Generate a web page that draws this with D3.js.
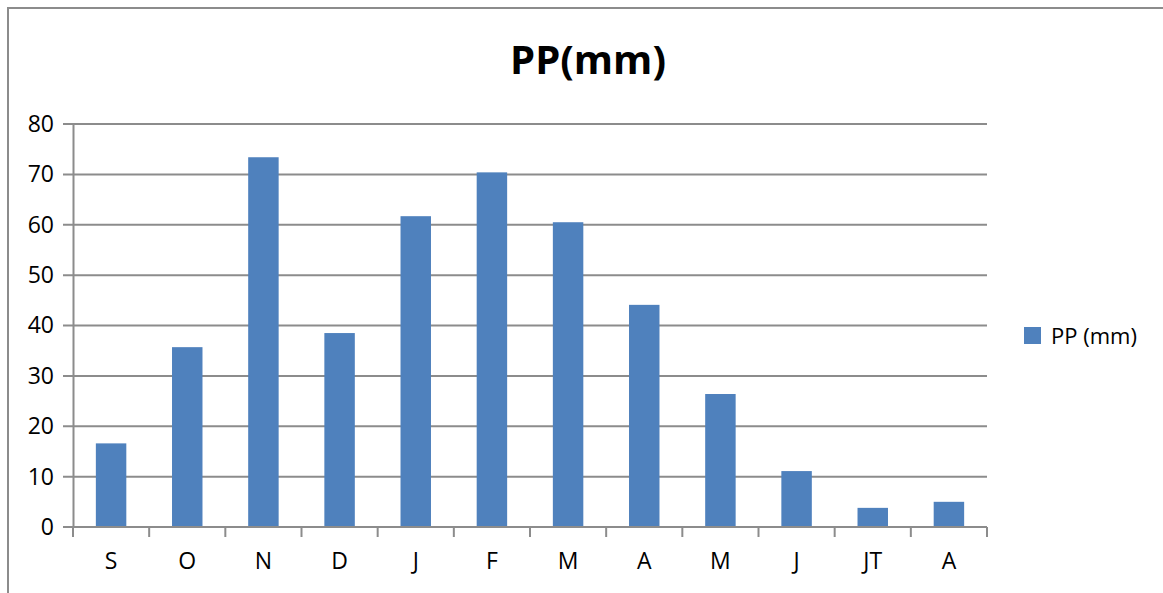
<!DOCTYPE html>
<html>
<head>
<meta charset="utf-8">
<script src="https://cdn.jsdelivr.net/npm/d3@7"></script>
<style>
  body { margin: 0; background: #fff; }
  svg { font-family: "Open Sans", sans-serif; }
  .grid line { stroke: #8c8c8c; stroke-width: 2; }
</style>
</head>
<body>
<svg width="1163" height="593"></svg>
<script>
var months = ["S", "O", "N", "D", "J", "F", "M", "A", "M", "J", "JT", "A"];
var ppValues = [16.6, 35.7, 73.4, 38.5, 61.7, 70.4, 60.5, 44.1, 26.4, 11.1, 3.8, 5.0];
var yTicks = [0, 10, 20, 30, 40, 50, 60, 70, 80];
var seriesName = "PP (mm)";
var title = "PP(mm)";

var data = months.map(function (m, i) { return { key: i, label: m, value: ppValues[i] }; });

var svg = d3.select("svg"),
    width = +svg.attr("width"),
    height = +svg.attr("height");

var margin = { left: 73, right: 176, top: 124, bottom: 66 };
var plotW = width - margin.left - margin.right,
    plotH = height - margin.top - margin.bottom;

// outer chart border
svg.append("rect")
    .attr("x", 8).attr("y", 8)
    .attr("width", 1163).attr("height", 620)
    .attr("fill", "none")
    .attr("stroke", "#8c8c8c")
    .attr("stroke-width", 2);

var x = d3.scaleBand()
    .domain(data.map(function (d) { return d.key; }))
    .range([0, plotW])
    .paddingInner(0.6)
    .paddingOuter(0.3);

var y = d3.scaleLinear()
    .domain([0, 80])
    .range([plotH, 0]);

var g = svg.append("g")
    .attr("transform", "translate(" + margin.left + "," + margin.top + ")");

// gridlines
g.append("g")
    .attr("class", "grid")
    .selectAll("line")
    .data(yTicks)
    .enter().append("line")
    .attr("x1", -10)
    .attr("x2", plotW)
    .attr("y1", function (d) { return y(d); })
    .attr("y2", function (d) { return y(d); });

// y axis
var yAxis = g.append("g")
    .call(d3.axisLeft(y).tickValues(yTicks).tickSize(0).tickPadding(19));
yAxis.select(".domain").attr("stroke", "#8c8c8c").attr("stroke-width", 2);
yAxis.selectAll("text")
    .attr("font-size", 23)
    .attr("font-family", "Open Sans, sans-serif")
    .attr("fill", "#000");

// bars
g.selectAll(".bar")
    .data(data)
    .enter().append("rect")
    .attr("class", "bar")
    .attr("x", function (d) { return x(d.key); })
    .attr("width", x.bandwidth())
    .attr("y", function (d) { return y(d.value); })
    .attr("height", function (d) { return plotH - y(d.value); })
    .attr("fill", "#4f81bd");

// x axis with category boundary ticks
var step = plotW / months.length;
var xAxis = g.append("g")
    .attr("transform", "translate(0," + plotH + ")");
xAxis.append("line")
    .attr("x1", 0).attr("x2", plotW)
    .attr("stroke", "#8c8c8c").attr("stroke-width", 2);
xAxis.selectAll(".tick")
    .data(d3.range(months.length + 1))
    .enter().append("line")
    .attr("x1", function (i) { return i * step; })
    .attr("x2", function (i) { return i * step; })
    .attr("y1", 0).attr("y2", 10)
    .attr("stroke", "#8c8c8c").attr("stroke-width", 2);
xAxis.selectAll(".lbl")
    .data(data)
    .enter().append("text")
    .attr("x", function (d) { return x(d.key) + x.bandwidth() / 2; })
    .attr("y", 42)
    .attr("text-anchor", "middle")
    .attr("font-size", 23)
    .attr("fill", "#000")
    .text(function (d) { return d.label; });

// title
svg.append("text")
    .attr("x", 588)
    .attr("y", 74)
    .attr("text-anchor", "middle")
    .attr("font-size", 40)
    .attr("font-weight", "bold")
    .attr("fill", "#000")
    .text(title);

// legend
var legend = svg.append("g").attr("transform", "translate(1024,327)");
legend.append("rect")
    .attr("width", 17).attr("height", 17)
    .attr("fill", "#4f81bd");
legend.append("text")
    .attr("x", 27).attr("y", 17)
    .attr("font-size", 22)
    .attr("fill", "#000")
    .text(seriesName);
</script>
</body>
</html>
